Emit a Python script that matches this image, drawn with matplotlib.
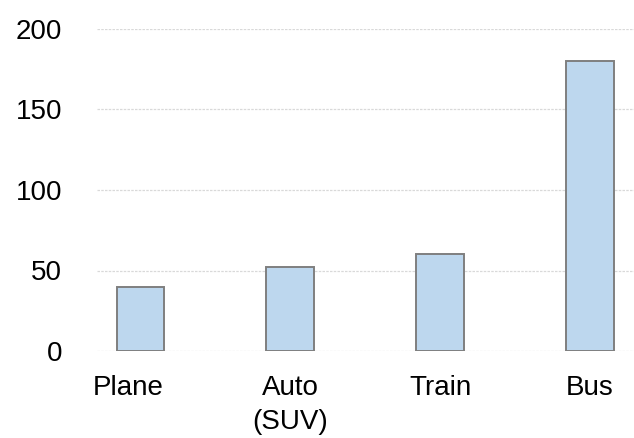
import numpy as np
import matplotlib.pyplot as plt
import matplotlib.transforms as mtransforms

# travel modes and values per mode
modes = ["Plane", "Auto\n(SUV)", "Train", "Bus"]
values = [40, 52, 60, 180]
y_ticks = [0, 50, 100, 150, 200]

plt.rcParams['font.family'] = ['Liberation Sans', 'DejaVu Sans']

fig = plt.figure(figsize=(6.34, 4.38), dpi=100)
ax = fig.add_axes([97 / 634, 1 - 351 / 438, 1 - 97 / 634, (351 - 29) / 438])

x = np.arange(len(modes))
ax.bar(x, values, width=0.318, color='#bdd7ee', edgecolor='#7f7f7f',
       linewidth=1.4, zorder=3)

ax.set_xlim(-0.29, len(modes) - 1 + 0.294)
ax.set_ylim(0, 200)
ax.set_yticks(y_ticks)
ax.set_xticks(x)
ax.set_xticklabels(modes, linespacing=1.4, va='top')

ax.grid(axis='y', color='#d9d9d9', linestyle=(0, (2, 1)), linewidth=0.9, zorder=0)
ax.tick_params(axis='both', length=0, labelsize=20)
ax.tick_params(axis='y', pad=25)
ax.tick_params(axis='x', pad=17)
for s in ax.spines.values():
    s.set_visible(False)

# first category label sits a little left of its bar
lbl = ax.get_xticklabels()[0]
lbl.set_transform(lbl.get_transform() +
                  mtransforms.ScaledTranslation(-12 / 100, 0, fig.dpi_scale_trans))

fig.savefig("out.png", dpi=100)
